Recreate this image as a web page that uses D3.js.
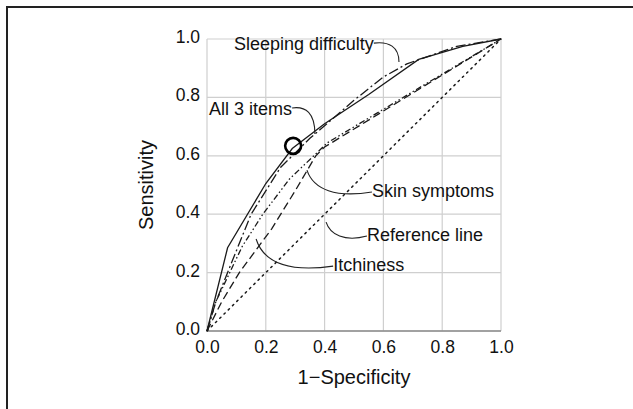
<!DOCTYPE html>
<html>
<head>
<meta charset="utf-8">
<script src="https://cdn.jsdelivr.net/npm/d3@7"></script>
<style>
  body { margin: 0; background: #fff; }
  text { font-family: "Liberation Sans", Arial, sans-serif; fill: #111; }
</style>
</head>
<body>
<script>
// chart size
const width = 633, height = 409;

// ticks
const tickValues = [0, 0.2, 0.4, 0.6, 0.8, 1.0];

// ROC curves (1-specificity, sensitivity)
const all3Fpr = [0, 0.07, 0.2, 0.29, 0.4, 0.55, 0.72, 0.87, 1];
const all3Tpr = [0, 0.285, 0.505, 0.625, 0.71, 0.81, 0.93, 0.975, 1];

const sleepFpr = [0, 0.03, 0.15, 0.25, 0.35, 0.5, 0.6, 0.68, 0.85, 1];
const sleepTpr = [0, 0.1, 0.4, 0.56, 0.66, 0.79, 0.87, 0.915, 0.975, 1];

const itchFpr = [0, 0.03, 0.12, 0.19, 0.28, 0.41, 1];
const itchTpr = [0, 0.1, 0.29, 0.4, 0.52, 0.645, 1];

const skinFpr = [0, 0.05, 0.11, 0.22, 0.3, 0.37, 0.4, 1];
const skinTpr = [0, 0.1, 0.2, 0.35, 0.48, 0.6, 0.63, 1];

const refFpr = [0, 1];
const refTpr = [0, 1];

// annotation labels: text, text anchor point, leader target point
const labelNames = ["Sleeping difficulty", "All 3 items", "Skin symptoms", "Reference line", "Itchiness"];
const labelX = [0.092, 0.007, 0.561, 0.544, 0.429];
const labelY = [0.962, 0.74, 0.459, 0.308, 0.205];
const leaderX = [0.653, 0.367, 0.34, 0.405, 0.167];
const leaderY = [0.921, 0.675, 0.551, 0.373, 0.315];

const margin = {left: 207, right: 132, top: 39, bottom: 78};

const svg = d3.select("body")
    .append("svg")
    .attr("width", width)
    .attr("height", height);

// outer frame (only left and top edges fall inside the picture)
svg.append("rect")
    .attr("x", 7).attr("y", 7)
    .attr("width", width + 20).attr("height", height + 20)
    .attr("fill", "none")
    .attr("stroke", "#222")
    .attr("stroke-width", 2);

const x = d3.scaleLinear().domain([0, 1]).range([margin.left, width - margin.right]);
const y = d3.scaleLinear().domain([0, 1]).range([height - margin.bottom, margin.top]);

// grid
svg.append("g")
    .selectAll("line.gx")
    .data(tickValues)
    .join("line")
    .attr("x1", d => x(d)).attr("x2", d => x(d))
    .attr("y1", y(0)).attr("y2", y(1))
    .attr("stroke", "#cfcfcf").attr("stroke-width", 1.2);

svg.append("g")
    .selectAll("line.gy")
    .data(tickValues)
    .join("line")
    .attr("x1", x(0)).attr("x2", x(1))
    .attr("y1", d => y(d)).attr("y2", d => y(d))
    .attr("stroke", "#cfcfcf").attr("stroke-width", 1.2);

// bottom axis line
svg.append("line")
    .attr("x1", x(0)).attr("x2", x(1))
    .attr("y1", y(0)).attr("y2", y(0))
    .attr("stroke", "#8a8a8a").attr("stroke-width", 1.5);

// axes (labels only)
const xAxis = svg.append("g")
    .attr("transform", `translate(0,${y(0)})`)
    .call(d3.axisBottom(x).tickValues(tickValues).tickFormat(d3.format(".1f")).tickSize(0).tickPadding(10));
const yAxis = svg.append("g")
    .attr("transform", `translate(${x(0)},0)`)
    .call(d3.axisLeft(y).tickValues(tickValues).tickFormat(d3.format(".1f")).tickSize(0).tickPadding(7));
[xAxis, yAxis].forEach(g => {
    g.select(".domain").remove();
    g.selectAll("text")
        .attr("font-size", "17.5px")
        .attr("font-family", "Liberation Sans, Arial, sans-serif")
        .attr("fill", "#111");
});
yAxis.selectAll("text").attr("dy", "0.2em");

// axis titles
svg.append("text")
    .attr("x", x(0.5)).attr("y", 384)
    .attr("text-anchor", "middle")
    .attr("font-size", "20px")
    .text("1\u2212Specificity");

svg.append("text")
    .attr("transform", `translate(153,${y(0.5)}) rotate(-90)`)
    .attr("text-anchor", "middle")
    .attr("font-size", "20px")
    .text("Sensitivity");

// curves
const line = d3.line().x(d => x(d[0])).y(d => y(d[1]));
const curves = [
    {fpr: refFpr, tpr: refTpr, dash: "1.6,4.4", cap: "round", w: 1.5},
    {fpr: skinFpr, tpr: skinTpr, dash: "8,4", cap: "butt", w: 1.3},
    {fpr: itchFpr, tpr: itchTpr, dash: "6,2.5,1.5,2.5,1.5,2.5", cap: "butt", w: 1.3},
    {fpr: sleepFpr, tpr: sleepTpr, dash: "10,3,2,3", cap: "butt", w: 1.3},
    {fpr: all3Fpr, tpr: all3Tpr, dash: null, cap: "butt", w: 1.3}
];
svg.append("g")
    .selectAll("path")
    .data(curves)
    .join("path")
    .attr("d", c => line(d3.zip(c.fpr, c.tpr)))
    .attr("fill", "none")
    .attr("stroke", "#1a1a1a")
    .attr("stroke-width", c => c.w)
    .attr("stroke-linecap", c => c.cap)
    .attr("stroke-dasharray", c => c.dash);

// optimal cut-off marker on "All 3 items"
svg.append("circle")
    .attr("cx", x(0.293)).attr("cy", y(0.634))
    .attr("r", 8)
    .attr("fill", "none")
    .attr("stroke", "#000")
    .attr("stroke-width", 2.6);

// annotation labels with curved leaders
const labels = labelNames.map((t, i) => ({t, lx: labelX[i], ly: labelY[i], tx: leaderX[i], ty: leaderY[i]}));
const lab = svg.append("g")
    .selectAll("text")
    .data(labels)
    .join("text")
    .attr("x", d => x(d.lx))
    .attr("y", d => y(d.ly))
    .attr("font-size", "18px")
    .text(d => d.t);

const leaders = svg.append("g");
lab.each(function(d) {
    const b = this.getBBox();
    const tx = x(d.tx), ty = y(d.ty);
    let sx, sy;
    if (tx > b.x + b.width / 2) {      // leader leaves from the right end
        sx = b.x + b.width; sy = b.y + b.height * 0.45;
    } else {                          // leader leaves from the left end
        sx = b.x; sy = b.y + b.height * 0.55;
    }
    const right = tx > sx;
    const cx1 = right ? tx : sx - (sx - tx) * 0.55;
    const p = right
        ? `M${sx},${sy} C${sx + (tx - sx) * 0.6},${sy - 2} ${tx},${sy + (ty - sy) * 0.2} ${tx},${ty}`
        : `M${sx},${sy} C${cx1},${sy + 6} ${tx + (sx - tx) * 0.1},${sy + (ty - sy) * 0.1} ${tx},${ty}`;
    leaders.append("path")
        .attr("d", p)
        .attr("fill", "none")
        .attr("stroke", "#222")
        .attr("stroke-width", 1.1);
});
</script>
</body>
</html>
